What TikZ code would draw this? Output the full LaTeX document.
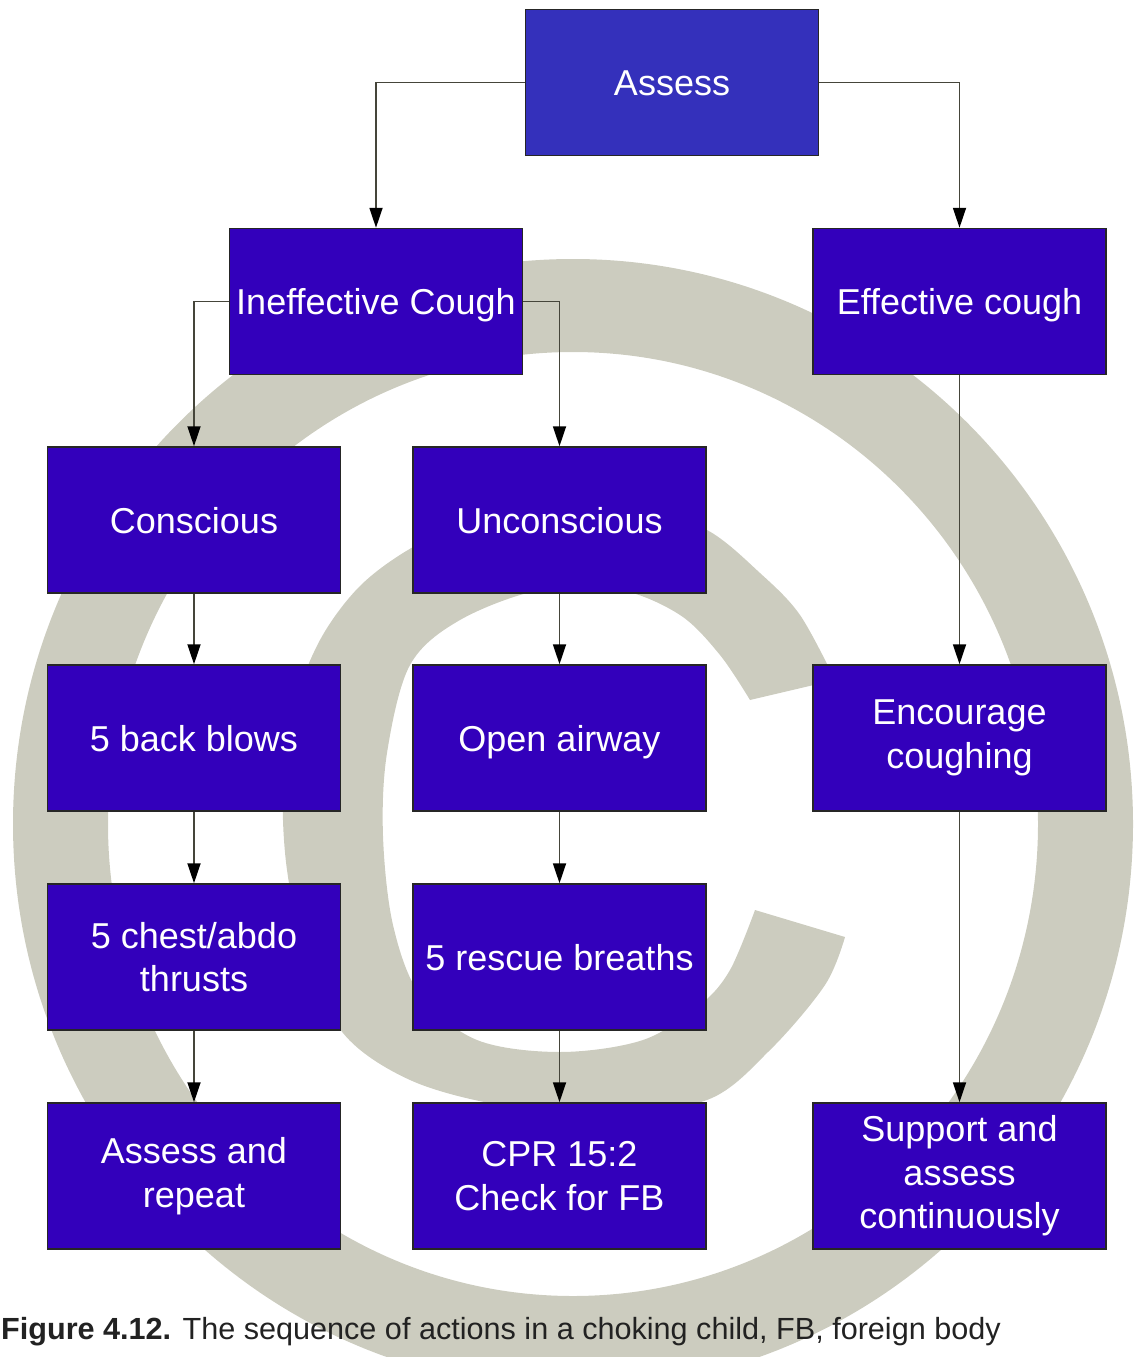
\documentclass[tikz,border=0pt]{standalone}
\usepackage{fontspec}
\setmainfont{Liberation Sans}
\usetikzlibrary{arrows.meta}
\definecolor{boxfill}{HTML}{3300BB}
\definecolor{topfill}{HTML}{3430BB}
\definecolor{wmgray}{HTML}{CCCCBF}
\definecolor{linecol}{HTML}{45453A}
\definecolor{capcol}{HTML}{222222}
\begin{document}
\begin{tikzpicture}[x=1pt,y=-1pt,
  box/.style={draw=black!85, line width=1.5pt, fill=boxfill, minimum width=293pt,
    minimum height=146pt, inner sep=0pt, text=white,
    font=\fontsize{36}{43.5}\selectfont, align=center},
  oneline/.style={text height=26pt, text depth=0pt},
  conn/.style={draw=linecol, line width=1.8pt,
    -{Triangle[length=20pt,width=13pt,color=black]}},
  wm/.style={fill=wmgray}]
\useasboundingbox (0,0) rectangle (1140,1357);
% watermark
\begin{scope}
\clip (0,0) rectangle (1140,1357);
\fill[wm, even odd rule] (573,824) ellipse [x radius=560pt, y radius=565pt]
                         (573,824) ellipse [x radius=465pt, y radius=472pt];
\fill[wm] plot[smooth, tension=0.55] coordinates {(835,680) (800,615) (760,573) (707,530) (640,510) (560,503) (480,517) (413,547) (360,586) (320,640) (293,710) (283,790) (287,870) (305,950) (343,1033) (410,1080) (500,1105) (600,1113) (707,1100) (770,1050) (825,985) (845,937)}
  -- plot[smooth, tension=0.55] coordinates {(755,910) (730,970) (700,1005) (643,1040) (560,1052) (477,1040) (420,995) (393,925) (383,836) (387,753) (410,665) (460,620) (540,590) (620,590) (680,615) (720,655) (750,700)}
  -- cycle;
\end{scope}
% boxes
\node[box, oneline, fill=topfill] (assess) at (672,82.5) {Assess};
\node[box, oneline] (ineff) at (376,301.5) {Ineffective Cough};
\node[box, oneline] (eff) at (959.5,301.5) {Effective cough};
\node[box, oneline] (consc) at (194,520) {Conscious};
\node[box, oneline] (uncon) at (559.5,520) {Unconscious};
\node[box, oneline] (back) at (194,738) {5 back blows};
\node[box, oneline] (airway) at (559.5,738) {Open airway};
\node[box] (enc) at (959.5,738) {Encourage\\coughing};
\node[box] (chest) at (194,957) {5 chest/abdo\\thrusts};
\node[box, oneline] (rescue) at (559.5,957) {5 rescue breaths};
\node[box] (repeat) at (194,1176) {Assess and\\repeat};
\node[box] (cpr) at (559.5,1176) {CPR 15:2\\Check for FB};
\node[box] (supp) at (959.5,1176) {Support and\\assess\\continuously};
% connectors
\draw[conn] (assess.west) -| (ineff.north);
\draw[conn] (assess.east) -| (eff.north);
\draw[conn] (ineff.west) -| (consc.north);
\draw[conn] (ineff.east) -| (uncon.north);
\draw[conn] (consc.south) -- (back.north);
\draw[conn] (back.south) -- (chest.north);
\draw[conn] (chest.south) -- (repeat.north);
\draw[conn] (uncon.south) -- (airway.north);
\draw[conn] (airway.south) -- (rescue.north);
\draw[conn] (rescue.south) -- (cpr.north);
\draw[conn] (eff.south) -- (enc.north);
\draw[conn] (enc.south) -- (supp.north);
% caption
\node[anchor=base west, inner sep=0pt, text=capcol, font=\fontsize{30.6}{36}\selectfont]
  (cap) at (1,1339) {\textbf{Figure 4.12.} The sequence of actions in a choking child, FB, foreign body};
\end{tikzpicture}
\end{document}
